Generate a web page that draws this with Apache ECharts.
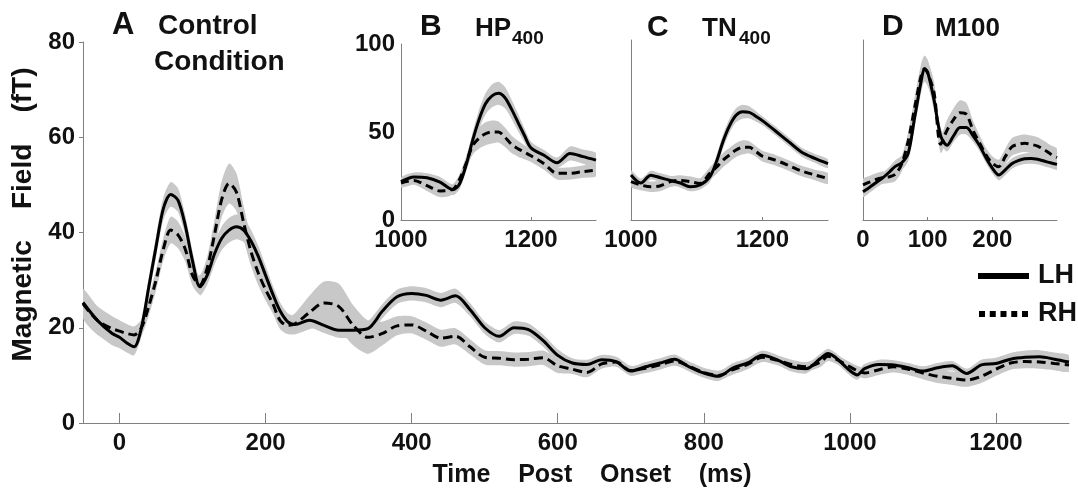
<!DOCTYPE html>
<html><head><meta charset="utf-8">
<script src="https://cdn.jsdelivr.net/npm/echarts@6/dist/echarts.min.js"></script>
<style>html,body{margin:0;padding:0;background:#fff}#c{width:1078px;height:493px}</style>
</head><body><div id="c"></div>
<script>
// ---------- Panel A : Control Condition ----------
const mainTime = [-50,-30,-10,0,10,20,30,40,50,60,70,80,90,100,110,120,130,140,150,160,170,180,190,200,210,220,230,240,
  260,280,300,320,340,360,380,400,420,440,460,480,500,520,540,560,580,600,620,640,660,680,700,720,740,760,780,800,820,840,860,880,900,920,940,960,
  970,980,1000,1010,1020,1040,1060,1080,1100,1120,1140,1160,1180,1200,1220,1240,1260,1280,1300];
const mainLH = [25.3,21.5,18.8,18.0,16.8,16.0,20.0,28.5,37.0,45.0,48.0,46.8,41.5,34.0,28.6,31.0,35.5,38.8,40.5,41.2,40.5,38.2,35.0,31.0,27.0,23.5,21.3,20.7,
  21.6,20.5,19.5,19.5,19.8,23.5,26.5,27.2,26.8,25.8,26.7,23.8,20.0,18.2,20.0,19.6,17.3,14.2,12.6,12.3,13.3,12.9,10.9,11.8,12.6,13.4,11.8,10.5,9.8,11.6,12.6,14.2,13.3,11.8,11.4,13.6,
  14.6,13.8,11.0,10.1,11.4,12.3,12.2,11.6,10.9,11.6,12.0,10.4,12.2,12.5,13.4,13.8,13.9,13.4,12.8];
const mainRH = [25.0,21.5,19.8,19.3,18.8,18.5,20.0,24.5,30.0,36.5,40.5,39.5,36.5,31.0,29.0,32.5,39.5,47.0,50.3,48.5,42.0,36.0,31.5,28.0,25.0,21.5,20.5,20.8,
  23.2,25.2,24.5,20.5,18.0,18.8,20.4,20.6,19.3,17.8,18.2,16.0,13.8,13.6,13.3,13.4,13.7,12.0,11.3,10.6,12.4,12.8,11.0,11.5,12.2,13.0,11.9,10.6,10.0,11.2,12.3,13.8,13.2,12.3,11.8,12.8,
  14.0,13.5,11.8,11.0,10.5,11.2,11.8,11.3,10.5,9.8,9.4,9.0,9.8,11.3,12.6,12.9,12.8,12.5,12.2];
const mainLHErr = [2.8,2.8,2.5,2.3,2.0,1.8,1.8,2.0,2.2,2.4,2.6,2.5,2.2,2.0,1.8,2.0,2.3,2.5,2.6,2.6,2.5,2.4,2.2,2.0,1.8,1.8,1.8,1.8,
  1.6,1.6,1.6,1.6,1.6,1.5,1.5,1.5,1.5,1.5,1.5,1.4,1.3,1.3,1.3,1.3,1.3,1.3,1.0,1.0,1.0,1.0,1.0,1.0,1.0,1.0,1.0,1.0,1.0,1.0,1.0,1.0,1.0,1.0,1.0,1.0,
  1.0,1.0,1.0,1.0,1.0,1.0,1.0,1.0,1.0,1.0,1.0,1.0,1.1,1.2,1.3,1.4,1.4,1.4,1.4];
const mainRHErr = [3.0,3.0,2.6,2.3,2.0,1.8,1.8,2.0,2.2,2.4,2.8,2.8,2.6,2.2,2.0,2.4,3.2,3.8,4.2,4.0,3.5,3.0,2.6,2.3,2.0,1.8,1.8,2.2,
  3.5,4.5,4.8,4.2,3.5,2.5,2.0,1.8,1.8,1.8,1.7,1.6,1.5,1.5,1.5,1.5,1.5,1.5,1.0,1.0,1.0,1.0,1.0,1.0,1.0,1.0,1.0,1.0,1.0,1.0,1.0,1.0,1.0,1.0,1.0,1.0,
  1.0,1.0,1.0,1.0,1.1,1.1,1.2,1.2,1.3,1.4,1.4,1.4,1.4,1.4,1.4,1.4,1.4,1.4,1.4];
const mainXTicks = [0,200,400,600,800,1000,1200];
const mainYTicks = [0,20,40,60,80];

// ---------- Panel B : HP400 ----------
const hpTime = [1000,1020,1040,1060,1080,1090,1100,1110,1120,1130,1140,1150,1160,1170,1180,1190,1200,1220,1240,1260,1280,1300];
const hpLH = [21.8,24.5,24.0,21.5,17.2,20.5,31.0,45.0,57.0,66.0,70.5,72.0,69.5,63.0,55.5,48.0,41.0,36.8,32.5,37.8,36.0,34.0];
const hpRH = [21.0,22.5,19.5,16.5,17.5,23.0,32.0,42.0,46.5,49.0,50.0,50.0,47.0,43.0,40.5,38.5,36.5,32.0,26.5,26.5,27.5,28.4];
const hpLHErr = [2.5,2.5,2.5,3.0,3.0,3.0,3.5,4.5,5.5,6.0,6.5,6.5,6.0,5.5,5.0,4.0,3.5,3.0,3.0,4.0,4.0,4.0];
const hpRHErr = [2.5,2.5,3.0,3.5,3.0,3.0,4.0,5.0,6.0,6.5,6.5,6.0,5.5,5.0,4.5,4.0,3.5,3.5,3.5,3.5,3.5,3.5];
// ---------- Panel C : TN400 ----------
const tnTime = [1000,1015,1030,1045,1060,1075,1090,1105,1120,1130,1140,1150,1160,1170,1180,1190,1200,1220,1240,1260,1280,1300];
const tnLH = [25.6,21.0,25.5,24.0,22.5,21.0,18.9,19.9,24.5,33.0,44.5,53.5,59.5,61.5,61.2,59.0,56.5,50.6,44.5,38.5,35.0,32.0];
const tnRH = [21.8,19.9,18.9,19.5,21.8,22.5,21.8,20.8,26.5,30.0,34.0,37.0,39.8,41.3,41.3,39.0,36.3,34.0,31.0,27.8,25.6,23.6];
const tnLHErr = [2.5,2.5,2.5,2.5,2.5,2.5,2.5,2.5,3.0,3.5,4.0,4.0,4.0,4.0,3.5,3.0,2.5,2.5,2.5,2.5,2.5,2.5];
const tnRHErr = [3.0,3.0,3.0,3.0,3.0,3.0,3.0,3.0,3.5,4.0,4.0,4.0,4.0,4.0,3.5,3.0,3.0,3.0,3.0,3.0,3.0,3.0];
// ---------- Panel D : M100 ----------
const mTime = [0,10,20,30,40,50,60,70,80,90,95,100,110,120,130,140,150,160,170,180,190,200,210,220,230,240,250,260,270,280,290,300];
const mLH = [16.0,18.5,21.2,23.8,27.0,30.5,32.5,38.0,58.5,79.0,86.0,84.0,68.0,48.0,42.5,47.8,52.5,52.5,48.0,42.5,35.5,29.5,25.6,28.5,32.0,33.8,34.8,35.0,34.5,33.5,32.5,31.6];
const mRH = [19.9,21.5,23.0,24.0,24.5,26.0,32.0,45.0,64.0,82.0,86.0,83.5,72.0,43.0,51.0,57.0,61.0,60.0,51.0,44.0,37.0,32.2,30.3,36.0,41.5,43.0,43.6,43.0,42.0,40.0,37.5,35.5];
const mLHErr = [3.0,3.0,3.0,3.0,3.0,3.5,4.0,4.5,5.5,6.5,7.0,7.0,6.0,4.5,3.5,3.5,4.0,4.0,3.5,3.0,3.0,3.0,3.0,3.0,3.0,3.0,3.0,3.0,3.0,3.0,3.0,3.0];
const mRHErr = [3.5,3.5,3.5,3.5,3.5,4.0,4.5,5.0,6.0,7.0,7.5,7.5,6.5,5.0,6.0,6.5,7.0,6.5,5.5,4.5,4.0,4.0,4.0,4.5,5.0,5.0,5.0,5.0,5.0,5.0,5.0,5.0];
const insetMsTicks = [1000,1200];
const insetM100Ticks = [0,100,200];
const insetYTicks = [0,50,100];

const FONT = '"Liberation Sans", Arial, sans-serif';
const AXIS_GRAY = '#808080';
const BAND = '#c8c8c8';

function bandSeries(idx, time, vals, errs, name) {
  const data = time.map((t, i) => [t, vals[i] - errs[i], vals[i] + errs[i]]);
  return {
    type: 'custom', name: name, xAxisIndex: idx, yAxisIndex: idx, silent: true, z: 1, clip: true,
    encode: {x: 0, y: [1, 2]},
    data: data,
    renderItem: function (params, api) {
      if (params.dataIndex !== 0) return null;
      const upper = data.map(d => api.coord([d[0], d[2]]));
      const lower = data.map(d => api.coord([d[0], d[1]])).reverse();
      return {type: 'polygon', shape: {points: upper.concat(lower), smooth: 0.25},
              style: {fill: BAND, stroke: null}};
    }
  };
}

function panelSeries(idx, time, lh, lhErr, rh, rhErr, dash) {
  const pairs = v => time.map((t, i) => [t, v[i]]);
  const base = {type: 'line', xAxisIndex: idx, yAxisIndex: idx, symbol: 'none', showSymbol: false, smooth: 0.3, silent: true, animation: false};
  return [
    bandSeries(idx, time, lh, lhErr, '_lhband' + idx),
    bandSeries(idx, time, rh, rhErr, '_rhband' + idx),
    Object.assign({}, base, {name: 'RH', data: pairs(rh), itemStyle: {color: '#000'}, lineStyle: {color: '#000', width: 3, type: dash}, z: 3}),
    Object.assign({}, base, {name: 'LH', data: pairs(lh), itemStyle: {color: '#000'}, lineStyle: {color: '#000', width: 3}, z: 4})
  ];
}

const plain = v => String(v);
const tickLabel = {fontSize: 24, fontWeight: 'bold', color: '#111', fontFamily: FONT, formatter: plain};
const axLine = {show: true, onZero: false, lineStyle: {color: AXIS_GRAY, width: 1}};

const option = {
  animation: false,
  backgroundColor: '#fff',
  grid: [
    {left: 83, top: 42, right: 9, bottom: 70},
    {left: 401, top: 44, width: 195, height: 176},
    {left: 631, top: 40, width: 197, height: 180},
    {left: 863, top: 40, width: 194, height: 180}
  ],
  xAxis: [
    {gridIndex: 0, type: 'value', min: -50, max: 1300, axisLine: axLine, splitLine: {show: false},
     axisTick: {inside: true, length: 10, lineStyle: {color: AXIS_GRAY}, customValues: mainXTicks},
     axisLabel: Object.assign({margin: 8, customValues: mainXTicks}, tickLabel),
     name: 'Time    Post    Onset    (ms)', nameLocation: 'middle', nameGap: 40,
     nameTextStyle: {fontSize: 25, fontWeight: 'bold', color: '#111', fontFamily: FONT, padding: [0, 0, 0, 32]}},
    {gridIndex: 1, type: 'value', min: 1000, max: 1300, axisLine: axLine, splitLine: {show: false},
     axisTick: {inside: true, length: 3, lineStyle: {color: AXIS_GRAY}, customValues: insetMsTicks},
     axisLabel: Object.assign({margin: 8, customValues: insetMsTicks}, tickLabel)},
    {gridIndex: 2, type: 'value', min: 1000, max: 1300, axisLine: axLine, splitLine: {show: false},
     axisTick: {inside: true, length: 3, lineStyle: {color: AXIS_GRAY}, customValues: insetMsTicks},
     axisLabel: Object.assign({margin: 8, customValues: insetMsTicks}, tickLabel)},
    {gridIndex: 3, type: 'value', min: 0, max: 300, axisLine: axLine, splitLine: {show: false},
     axisTick: {inside: true, length: 3, lineStyle: {color: AXIS_GRAY}, customValues: insetM100Ticks},
     axisLabel: Object.assign({margin: 8, customValues: insetM100Ticks}, tickLabel)}
  ],
  yAxis: [
    {gridIndex: 0, type: 'value', min: 0, max: 80, interval: 20, axisLine: axLine, splitLine: {show: false},
     axisTick: {show: true, length: 4, lineStyle: {color: AXIS_GRAY}},
     axisLabel: Object.assign({margin: 8, customValues: mainYTicks}, tickLabel),
     name: 'Magnetic    Field    (fT)', nameLocation: 'middle', nameGap: 46, nameRotate: 90,
     nameTextStyle: {fontSize: 28, fontWeight: 'bold', color: '#111', fontFamily: FONT, padding: [0, 0, 0, 36]}},
    {gridIndex: 1, type: 'value', min: 0, max: 100, axisLine: axLine, splitLine: {show: false},
     axisTick: {show: false}, axisLabel: Object.assign({margin: 6, customValues: insetYTicks}, tickLabel)},
    {gridIndex: 2, type: 'value', min: 0, max: 102.3, axisLine: axLine, splitLine: {show: false},
     axisTick: {show: false}, axisLabel: {show: false}},
    {gridIndex: 3, type: 'value', min: 0, max: 102.3, axisLine: axLine, splitLine: {show: false},
     axisTick: {show: false}, axisLabel: {show: false}}
  ],
  legend: {
    orient: 'vertical', left: 973, top: 256, itemWidth: 51, itemHeight: 6, itemGap: 8, selectedMode: false,
    textStyle: {fontSize: 27, fontWeight: 'bold', color: '#111', fontFamily: FONT, lineHeight: 30, padding: [0, 0, 0, 4]},
    data: [
      {name: 'LH', icon: 'rect'},
      {name: 'RH', icon: 'path://M0,0h6v6h-6zM10.75,0h6v6h-6zM21.5,0h6v6h-6zM32.25,0h6v6h-6zM43,0h6v6h-6z'}
    ]
  },
  graphic: [
    {type: 'text', z: 100, x: 112, y: 25, style: {text: 'A', font: 'bold 31px ' + FONT, fill: '#111', verticalAlign: 'middle'}},
    {type: 'text', z: 100, x: 158, y: 26, style: {text: 'Control', font: 'bold 28px ' + FONT, fill: '#111', verticalAlign: 'middle'}},
    {type: 'text', z: 100, x: 154, y: 62, style: {text: 'Condition', font: 'bold 28px ' + FONT, fill: '#111', verticalAlign: 'middle'}},
    {type: 'text', z: 100, x: 420, y: 27, style: {text: 'B', font: 'bold 30px ' + FONT, fill: '#111', verticalAlign: 'middle'}},
    {type: 'text', z: 100, x: 475, y: 29, style: {text: 'HP', font: 'bold 26px ' + FONT, fill: '#111', verticalAlign: 'middle'}},
    {type: 'text', z: 100, x: 512, y: 39, style: {text: '400', font: 'bold 19px ' + FONT, fill: '#111', verticalAlign: 'middle'}},
    {type: 'text', z: 100, x: 647, y: 28, style: {text: 'C', font: 'bold 30px ' + FONT, fill: '#111', verticalAlign: 'middle'}},
    {type: 'text', z: 100, x: 702, y: 29, style: {text: 'TN', font: 'bold 26px ' + FONT, fill: '#111', verticalAlign: 'middle'}},
    {type: 'text', z: 100, x: 739, y: 39, style: {text: '400', font: 'bold 19px ' + FONT, fill: '#111', verticalAlign: 'middle'}},
    {type: 'text', z: 100, x: 882, y: 27, style: {text: 'D', font: 'bold 30px ' + FONT, fill: '#111', verticalAlign: 'middle'}},
    {type: 'text', z: 100, x: 935, y: 29, style: {text: 'M100', font: 'bold 26px ' + FONT, fill: '#111', verticalAlign: 'middle'}}
  ],
  series: [].concat(
    panelSeries(0, mainTime, mainLH, mainLHErr, mainRH, mainRHErr, [9, 5]),
    panelSeries(1, hpTime, hpLH, hpLHErr, hpRH, hpRHErr, [8, 5]),
    panelSeries(2, tnTime, tnLH, tnLHErr, tnRH, tnRHErr, [8, 5]),
    panelSeries(3, mTime, mLH, mLHErr, mRH, mRHErr, [8, 5])
  )
};

const chart = echarts.init(document.getElementById('c'), null, {renderer: 'canvas'});
chart.setOption(option);
</script>
</body></html>
